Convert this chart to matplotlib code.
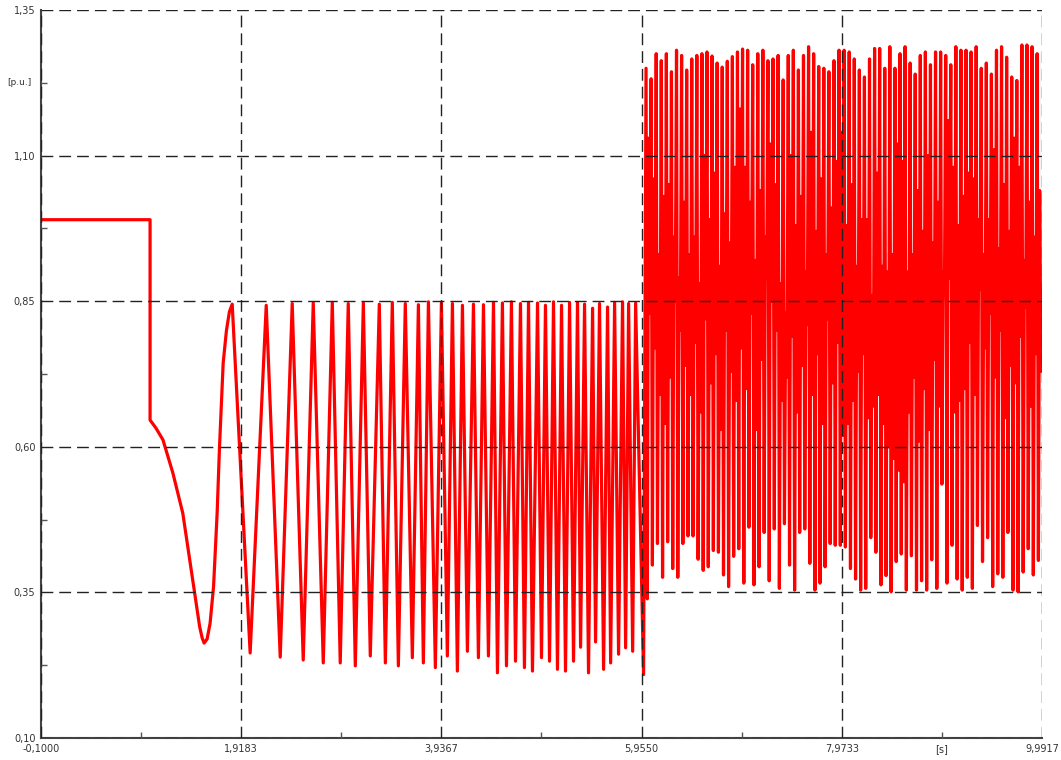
import numpy as np
import matplotlib
matplotlib.use("Agg")
import matplotlib.pyplot as plt
from matplotlib.ticker import FuncFormatter

# pre-fault level and the slow first swing after the step (t in s, value in p.u.)
start_t = [-0.1, 1.0, 1.0, 1.06, 1.13, 1.23, 1.33, 1.43, 1.50, 1.525, 1.545, 1.575,
           1.605, 1.64, 1.676, 1.70, 1.737, 1.77, 1.80]
start_v = [0.99, 0.99, 0.646, 0.632, 0.612, 0.555, 0.486, 0.371, 0.291, 0.272, 0.263, 0.270,
           0.297, 0.360, 0.486, 0.600, 0.744, 0.800, 0.832]

# oscillation 1.8 s .. 6.0 s : peaks and troughs
peak_t = [1.828, 2.171, 2.433, 2.645, 2.837, 2.998, 3.150, 3.311, 3.442, 3.573,
          3.705, 3.806, 3.937, 4.048, 4.149, 4.260, 4.361, 4.462, 4.552, 4.643,
          4.734, 4.815, 4.906, 4.986, 5.067, 5.148, 5.229, 5.309, 5.380, 5.461,
          5.531, 5.612, 5.683, 5.763, 5.824, 5.895]
peak_v = [0.845, 0.843, 0.846, 0.847, 0.848, 0.846, 0.847, 0.845, 0.848, 0.846,
          0.844, 0.849, 0.847, 0.846, 0.843, 0.845, 0.844, 0.848, 0.847, 0.849,
          0.846, 0.848, 0.847, 0.843, 0.849, 0.843, 0.848, 0.848, 0.845, 0.838,
          0.846, 0.840, 0.848, 0.849, 0.846, 0.847]
trough_t = [2.009, 2.312, 2.544, 2.746, 2.917, 3.069, 3.220, 3.372, 3.503, 3.644,
            3.755, 3.876, 3.997, 4.098, 4.199, 4.310, 4.411, 4.502, 4.593, 4.684,
            4.774, 4.855, 4.946, 5.027, 5.107, 5.188, 5.269, 5.340, 5.420, 5.491,
            5.572, 5.643, 5.723, 5.794, 5.865, 5.975]
trough_v = [0.246, 0.239, 0.234, 0.229, 0.229, 0.224, 0.241, 0.229, 0.224, 0.238,
            0.229, 0.221, 0.241, 0.215, 0.249, 0.238, 0.241, 0.212, 0.224, 0.232,
            0.221, 0.215, 0.238, 0.232, 0.218, 0.215, 0.232, 0.256, 0.212, 0.265,
            0.218, 0.229, 0.244, 0.255, 0.249, 0.209]

# fast oscillation after 5.955 s: per cycle a full peak, full trough,
# then a shallow peak and a shallow trough (ends of the white gaps)
fast_t0 = 6.0
fast_dt = 0.0128
fast_peaks = [1.250, 1.232, 1.275, 1.263, 1.275, 1.244, 1.281, 1.272, 1.247, 1.266,
              1.272, 1.275, 1.278, 1.271, 1.259, 1.252, 1.262, 1.270,
              1.278, 1.283, 1.281, 1.256, 1.275, 1.281, 1.263, 1.266, 1.272, 1.230,
              1.272, 1.281, 1.247, 1.272, 1.287, 1.275, 1.253, 1.250, 1.244, 1.263,
              1.281, 1.281, 1.278, 1.266, 1.247, 1.235, 1.266, 1.284, 1.284, 1.250,
              1.287, 1.250, 1.275, 1.287, 1.259, 1.240, 1.272, 1.278, 1.256, 1.278,
              1.278, 1.272, 1.256, 1.287, 1.281, 1.281, 1.278, 1.287, 1.250, 1.259,
              1.240, 1.281, 1.287, 1.269, 1.235, 1.229, 1.290, 1.290, 1.287, 1.275]
fast_troughs = [0.339, 0.397, 0.434, 0.376, 0.437, 0.391, 0.376, 0.434, 0.447, 0.447,
                0.407, 0.388, 0.394, 0.422, 0.419, 0.380, 0.360, 0.412,
                0.425, 0.366, 0.462, 0.363, 0.394, 0.453, 0.370, 0.459, 0.357, 0.468,
                0.397, 0.354, 0.453, 0.459, 0.400, 0.354, 0.366, 0.394, 0.434, 0.431,
                0.431, 0.428, 0.391, 0.373, 0.354, 0.357, 0.444, 0.419, 0.363, 0.379,
                0.351, 0.403, 0.416, 0.354, 0.413, 0.354, 0.370, 0.354, 0.406, 0.357,
                0.536, 0.366, 0.431, 0.373, 0.354, 0.376, 0.357, 0.465, 0.403, 0.444,
                0.360, 0.382, 0.376, 0.453, 0.354, 0.351, 0.385, 0.425, 0.380, 0.405]
fast_mid_hi = [1.13, 1.06, 0.93, 1.03, 1.05, 0.96, 0.89, 1.02, 0.93, 0.96,
               0.88, 1.10, 0.99, 1.07, 0.91, 1.00, 0.95, 1.08,
               1.18, 1.08, 1.02, 0.92, 1.04, 0.96, 1.12, 1.05, 0.88, 0.83,
               1.10, 0.98, 1.03, 0.90, 1.14, 0.97, 1.06, 0.93, 1.01, 1.09,
               1.14, 0.98, 1.05, 0.91, 0.99, 0.99, 0.86, 1.07, 0.91, 0.90,
               0.93, 1.12, 1.09, 0.90, 0.93, 1.04, 0.97, 1.10, 0.95, 1.02,
               0.90, 1.16, 1.08, 0.98, 1.03, 1.07, 1.06, 0.99, 0.93, 0.99,
               1.11, 0.94, 1.05, 0.97, 1.13, 1.08, 0.92, 1.02, 0.96, 1.04]
fast_mid_lo = [0.83, 0.77, 0.69, 0.64, 0.72, 0.85, 0.80, 0.74, 0.69, 0.78,
               0.66, 0.82, 0.71, 0.76, 0.63, 0.80, 0.73, 0.68,
               0.77, 0.70, 0.83, 0.63, 0.75, 0.89, 0.85, 0.80, 0.68, 0.72,
               0.79, 0.66, 0.74, 0.81, 0.69, 0.76, 0.64, 0.82, 0.71, 0.78,
               0.62, 0.64, 0.68, 0.73, 0.76, 0.65, 0.67, 0.69, 0.64, 0.60,
               0.58, 0.56, 0.54, 0.66, 0.72, 0.61, 0.70, 0.63, 0.75, 0.67,
               0.86, 0.89, 0.66, 0.68, 0.70, 0.78, 0.69, 0.87, 0.77, 0.83,
               0.72, 0.80, 0.65, 0.74, 0.71, 0.79, 0.84, 0.67, 0.76, 0.73]

x_ticks = [-0.1, 1.9183, 3.9367, 5.9550, 7.9733, 9.9917]
y_ticks = [0.10, 0.35, 0.60, 0.85, 1.10, 1.35]

# build the trace
osc_t = np.empty(2 * len(peak_t))
osc_v = np.empty(2 * len(peak_t))
osc_t[0::2], osc_t[1::2] = peak_t, trough_t
osc_v[0::2], osc_v[1::2] = peak_v, trough_v

fast_v = np.column_stack([fast_peaks, fast_troughs, fast_mid_hi, fast_mid_lo]).ravel()
fast_t = fast_t0 + fast_dt * np.arange(len(fast_v))

t = np.concatenate([start_t, osc_t, fast_t])
v = np.concatenate([start_v, osc_v, fast_v])

fig = plt.figure(figsize=(10.61, 7.6), dpi=100)
ax = fig.add_axes([0.0386, 0.0289, 0.9435, 0.9579])

ax.plot(t, v, color='#ff0000', lw=2.3)

ax.set_xlim(x_ticks[0], x_ticks[-1])
ax.set_ylim(y_ticks[0], y_ticks[-1])
ax.set_xticks(x_ticks)
ax.set_yticks(y_ticks)
ax.set_xticks([(a + b) / 2 for a, b in zip(x_ticks[:-1], x_ticks[1:])], minor=True)
ax.set_yticks([(a + b) / 2 for a, b in zip(y_ticks[:-1], y_ticks[1:])], minor=True)
ax.xaxis.set_major_formatter(FuncFormatter(lambda x, p: f"{x:.4f}".replace('.', ',')))
ax.yaxis.set_major_formatter(FuncFormatter(lambda x, p: f"{x:.2f}".replace('.', ',')))

ax.tick_params(which='major', length=0, labelsize=7, colors='#333333', pad=4)
ax.tick_params(which='minor', length=4, width=1, direction='in', colors='#555555')

ax.set_axisbelow(False)
ax.grid(True, which='major', color='#222222', lw=1.0, linestyle=(0, (8.5, 4.3)))

for s in ['top', 'right']:
    ax.spines[s].set_visible(False)
for s in ['left', 'bottom']:
    ax.spines[s].set_color('#444444')
    ax.spines[s].set_linewidth(1.5)

# unit labels sit at the minor tick positions
ax.text(-0.022, 1.225, '[p.u.]', transform=ax.get_yaxis_transform(),
        ha='center', va='center', fontsize=6.5, color='#333333')
ax.text(8.9825, -0.008, '[s]', transform=ax.get_xaxis_transform(),
        ha='center', va='top', fontsize=7, color='#333333')

fig.savefig('out.png', dpi=100)
